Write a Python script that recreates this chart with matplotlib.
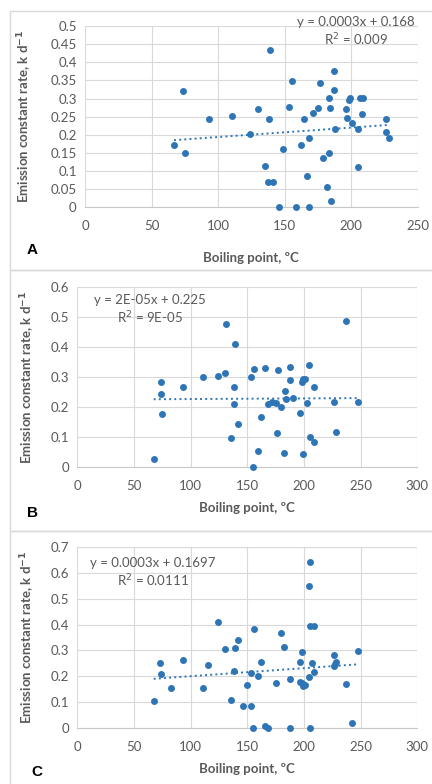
import numpy as np
import matplotlib
matplotlib.use('Agg')
import matplotlib.pyplot as plt
from matplotlib.patches import Rectangle

plt.rcParams['font.family'] = ['Lato', 'DejaVu Sans']

# panel A
bp_a = [66.9, 73.4, 74.9, 92.9, 110.7, 124.0, 129.8, 135.0, 138.0, 137.8,
        141.5, 139.3, 145.5, 149.0, 153.0, 155.6, 158.8, 162.0, 164.8, 166.8,
        168.0, 168.0, 171.0, 175.0, 176.6, 178.9, 182.1, 183.0, 183.0, 183.9,
        185.1, 187.1, 187.1, 188.1, 195.9, 196.6, 198.1, 199.1, 200.7, 205.2,
        205.2, 206.9, 208.9, 208.2, 226.0, 226.0, 228.2]
k_a = [0.171, 0.322, 0.151, 0.244, 0.253, 0.201, 0.272, 0.115, 0.244, 0.069,
       0.069, 0.433, 0.0, 0.162, 0.277, 0.349, 0.0, 0.171, 0.244, 0.085,
       0.191, 0.0, 0.261, 0.275, 0.342, 0.136, 0.057, 0.151, 0.301, 0.273,
       0.016, 0.375, 0.323, 0.215, 0.272, 0.247, 0.297, 0.301, 0.233, 0.216,
       0.112, 0.301, 0.301, 0.256, 0.243, 0.208, 0.192]

# panel B
bp_b = [67.4, 73.5, 73.5, 75.0, 93.2, 110.9, 124.4, 130.6, 130.9, 135.3,
        138.2, 138.2, 139.1, 141.8, 153.2, 155.3, 155.9, 159.4, 162.4, 165.3,
        168.2, 171.5, 175.3, 176.5, 177.1, 179.4, 182.4, 183.2, 184.1, 187.4,
        187.4, 190.6, 196.2, 198.2, 198.8, 201.2, 199.4, 202.4, 204.4, 205.3,
        208.5, 209.1, 226.2, 228.2, 237.1, 247.6]
k_b = [0.027, 0.283, 0.245, 0.176, 0.267, 0.301, 0.304, 0.314, 0.476, 0.097,
       0.267, 0.209, 0.410, 0.144, 0.299, 0.0, 0.327, 0.055, 0.166, 0.329,
       0.210, 0.217, 0.215, 0.115, 0.323, 0.200, 0.046, 0.254, 0.227, 0.332,
       0.291, 0.230, 0.182, 0.283, 0.294, 0.292, 0.045, 0.213, 0.340, 0.100,
       0.267, 0.084, 0.217, 0.118, 0.487, 0.218]

# panel C
bp_c = [67.4, 73.2, 73.8, 82.4, 93.2, 110.9, 115.6, 124.4, 130.3, 135.3,
        138.2, 139.4, 142.0, 146.2, 149.4, 153.2, 153.5, 155.3, 155.9, 159.4,
        162.4, 165.6, 168.2, 175.6, 179.4, 182.4, 187.4, 187.4, 196.2, 196.5,
        198.2, 198.2, 198.8, 201.2, 204.4, 204.4, 205.3, 205.3, 205.3, 208.5,
        207.4, 209.1, 226.2, 226.2, 227.1, 228.5, 236.8, 242.4, 247.6]
k_c = [0.104, 0.252, 0.208, 0.155, 0.265, 0.155, 0.245, 0.411, 0.304, 0.109,
       0.220, 0.311, 0.339, 0.087, 0.168, 0.214, 0.086, 0.0, 0.384, 0.202,
       0.257, 0.010, 0.0, 0.173, 0.369, 0.315, 0.191, 0.0, 0.180, 0.257,
       0.295, 0.173, 0.162, 0.167, 0.197, 0.548, 0.641, 0.0, 0.393, 0.393,
       0.252, 0.216, 0.281, 0.241, 0.248, 0.254, 0.170, 0.022, 0.297]

eq_a = ['y = 0.0003x + 0.168', 'R$^2$ = 0.009']
eq_b = ['y = 2E-05x + 0.225', 'R$^2$ = 9E-05']
eq_c = ['y = 0.0003x + 0.1697', 'R$^2$ = 0.0111']

blue = '#2e75b6'
grey = '#595959'
gridc = '#d9d9d9'
fs = 9.5

W, H = 432, 784
fig = plt.figure(figsize=(W / 100, H / 100), dpi=100)


def box(top, bottom):
    fig.patches.append(Rectangle((10 / W, 1 - bottom / H), 1.0, (bottom - top) / H,
                                 transform=fig.transFigure, fill=False,
                                 edgecolor='#d9d9d9', lw=1.0))


def panel(rect, x, y, xmax, ymax, ystep, eq, eq_pos, letter, letter_pos, xlab_y, ylab_x):
    l, t, r, b = rect
    ax = fig.add_axes([l / W, 1 - b / H, (r - l) / W, (b - t) / H])
    ax.scatter(x, y, s=25, color=blue, zorder=3, linewidths=0, clip_on=False)
    p = np.polyfit(x, y, 1)
    xs = np.array([min(x), max(x)])
    ax.plot(xs, np.polyval(p, xs), ls=':', color=blue, lw=1.4, zorder=2)
    ax.set_xlim(0, xmax)
    ax.set_ylim(0, ymax)
    ax.set_xticks(np.arange(0, xmax + 1, 50))
    yt = np.round(np.arange(0, ymax + ystep / 2, ystep), 2)
    ax.set_yticks(yt)
    ax.set_yticklabels(['0' if v == 0 else ('%g' % v) for v in yt])
    ax.grid(True, color=gridc, lw=0.8)
    ax.set_axisbelow(True)
    for s in ['top', 'right', 'left']:
        ax.spines[s].set_visible(False)
    ax.spines['bottom'].set_color('#c8c8c8')
    ax.tick_params(length=0, labelsize=fs, colors=grey, pad=6)
    ax.tick_params(axis='x', pad=9)
    # axis titles
    fig.text(((l + r) / 2) / W, 1 - xlab_y / H, 'Boiling point, ºC', ha='center', va='center',
             fontsize=fs, fontweight='bold', color=grey)
    fig.text(ylab_x / W, 1 - ((t + b) / 2) / H, 'Emission constant rate, k d$^{\\mathbf{-1}}$',
             rotation=90, ha='center', va='center', fontsize=fs, fontweight='bold', color=grey)
    # equation
    fig.text(eq_pos[0] / W, 1 - eq_pos[1] / H, eq[0], ha='center', va='center',
             fontsize=fs, color=grey)
    fig.text(eq_pos[0] / W, 1 - (eq_pos[1] + 17.5) / H, eq[1], ha='center', va='center',
             fontsize=fs, color=grey)
    fig.text(letter_pos[0] / W, 1 - letter_pos[1] / H, letter, ha='center', va='center',
             fontsize=11, fontweight='bold', color='black', family='Liberation Sans')
    return ax


box(11, 270)
box(270, 531)
box(531, 800)

panel((85, 26, 417.7, 207.3), bp_a, k_a, 250, 0.5, 0.05, eq_a, (356, 22.5), 'A', (32, 250.5), 258, 25)
panel((77.3, 286.7, 417.3, 467.3), bp_b, k_b, 300, 0.6, 0.1, eq_b, (150, 300.5), 'B', (33, 513), 508, 28)
panel((77.3, 546.7, 417.3, 728.3), bp_c, k_c, 300, 0.7, 0.1, eq_c, (153, 563), 'C', (37, 772), 769, 28)

fig.savefig('out.png', dpi=100)
